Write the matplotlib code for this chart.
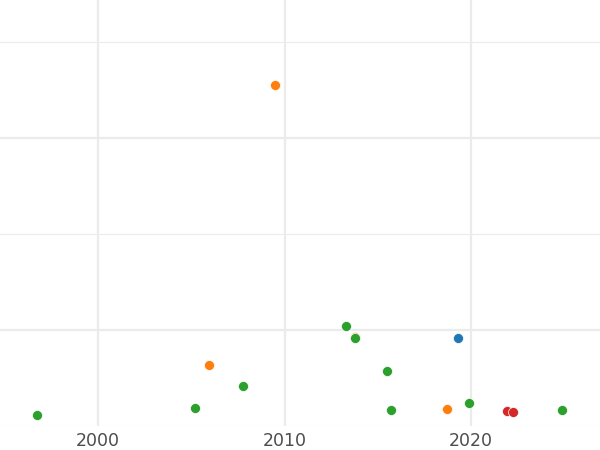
import numpy as np
import matplotlib.pyplot as plt
from matplotlib.ticker import MultipleLocator

# series (x = year, y = value on a hidden scale)
blue_x = [2019.30]
blue_y = [19.17]

orange_x = [2005.95, 2009.49, 2013.80, 2018.73]
orange_y = [16.35, 45.5, 19.30, 11.74]

green_x = [1996.73, 2005.20, 2007.77, 2013.31, 2013.78, 2015.48, 2015.73, 2019.88, 2024.88]
green_y = [11.17, 11.87, 14.17, 20.38, 19.17, 15.73, 11.63, 12.36, 11.70]

red_x = [2021.95, 2022.24]
red_y = [11.60, 11.46]

fig = plt.figure(figsize=(6, 4.5), dpi=100)
ax = fig.add_axes([0, 1 - 426 / 450, 1, 426 / 450])

for xs, ys, c in [(blue_x, blue_y, '#1f77b4'), (orange_x, orange_y, '#ff7f0e'),
                  (green_x, green_y, '#2ca02c'), (red_x, red_y, '#d62728')]:
    ax.scatter(xs, ys, s=52, color=c, edgecolors='white', linewidths=0.5, zorder=3)

ax.set_xlim(1994.745, 2026.917)
ax.set_ylim(10, 54.375)
ax.xaxis.set_major_locator(MultipleLocator(10))
ax.yaxis.set_major_locator(MultipleLocator(20))
ax.yaxis.set_minor_locator(MultipleLocator(10))
ax.grid(which='major', color='#ebebeb', linewidth=1.6)
ax.grid(which='minor', axis='y', color='#ebebeb', linewidth=0.8)
ax.set_axisbelow(True)
for s in ax.spines.values():
    s.set_visible(False)
ax.tick_params(axis='x', length=0, pad=4, labelsize=12.5, labelcolor='#4d4d4d')
ax.tick_params(axis='y', which='both', length=0, labelleft=False)

fig.savefig('out.png', dpi=100)
